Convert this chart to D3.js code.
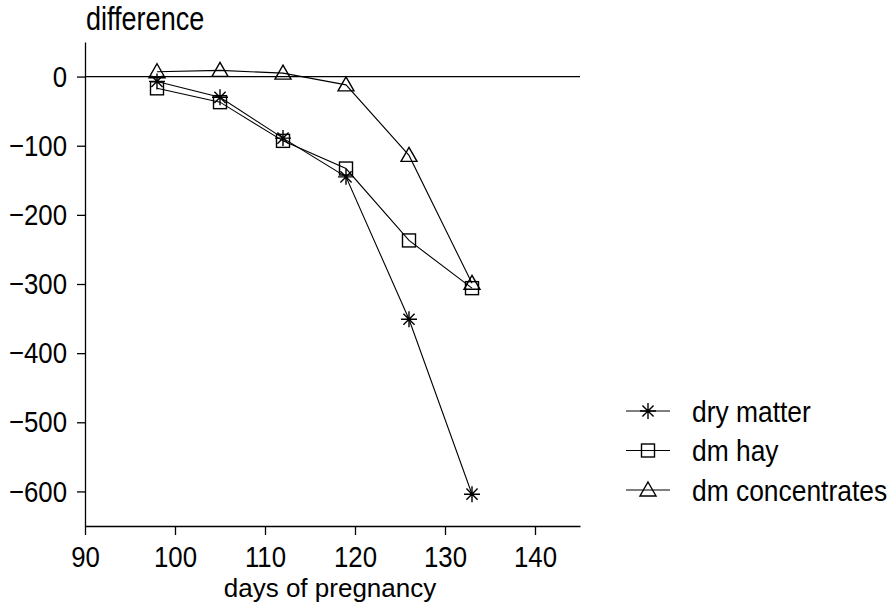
<!DOCTYPE html>
<html>
<head>
<meta charset="utf-8">
<script src="https://cdn.jsdelivr.net/npm/d3@7"></script>
<style>
  body { margin: 0; background: #fff; }
  svg text { font-family: "Liberation Sans", Arimo, sans-serif; fill: #000; }
  .axis path, .axis line { stroke: #000; stroke-width: 1.3px; }
  .axis text { font-size: 30px; font-family: "Liberation Sans", sans-serif; }
  .series { fill: none; stroke: #000; stroke-width: 1.1px; }
  .mark { fill: none; stroke: #000; stroke-width: 1.4px; }
</style>
</head>
<body>
<svg id="chart" width="893" height="604"></svg>
<script>
// days of pregnancy (x)
var days = [98, 105, 112, 119, 126, 133];

// differences
var dryMatter     = [-7, -30, -89, -145, -351, -604];
var dmHay         = [-17, -37, -93, -133, -237, -306];
var dmConcentrate = [7, 9, 5, -12, -114, -299];

var seriesNames = ["dry matter", "dm hay", "dm concentrates"];
var seriesMarks = ["star", "square", "triangle"];

var xTicks = [90, 100, 110, 120, 130, 140];
var yTicks = [0, -100, -200, -300, -400, -500, -600];

var svg = d3.select("#chart");

var x = d3.scaleLinear().domain([90, 145]).range([85, 580]);
var y = d3.scaleLinear().domain([50, -650]).range([42, 526]);

// the plotter font is narrow: squeeze texts sideways
function squash(sel, sx) {
  sel.each(function(){
    var t = d3.select(this);
    var x0 = +t.attr("x") || 0;
    t.attr("x", x0 / sx).attr("transform", "scale(" + sx + ",1)");
  });
}

// axes
var gx = svg.append("g")
    .attr("class", "x axis")
    .attr("transform", "translate(0," + y(-650) + ")")
    .call(d3.axisBottom(x).tickValues(xTicks).tickSize(9).tickSizeOuter(0).tickPadding(11));
squash(gx.selectAll("text"), 0.86);

var gy = svg.append("g")
    .attr("class", "y axis")
    .attr("transform", "translate(" + x(90) + ",0)")
    .call(d3.axisLeft(y).tickValues(yTicks).tickSize(8).tickSizeOuter(0).tickPadding(10));
squash(gy.selectAll("text"), 0.86);

// zero line
svg.append("line")
    .attr("x1", x(90)).attr("x2", x(145))
    .attr("y1", y(0)).attr("y2", y(0))
    .attr("stroke", "#000").attr("stroke-width", 1.2);

svg.append("text")
    .attr("x", 86).attr("y", 30)
    .style("font-size", "33px")
    .text("difference")
    .call(squash, 0.82);

svg.append("text")
    .attr("x", 330).attr("y", 597)
    .attr("text-anchor", "middle")
    .style("font-size", "26px")
    .text("days of pregnancy");

function drawMark(g, kind) {
  if (kind == "star") {
    var r = 8;
    g.append("path").attr("class", "mark")
      .attr("d", "M0," + (-r) + "V" + r + "M" + (-r) + ",0H" + r +
        "M" + (-r*0.7) + "," + (-r*0.7) + "L" + (r*0.7) + "," + (r*0.7) +
        "M" + (-r*0.7) + "," + (r*0.7) + "L" + (r*0.7) + "," + (-r*0.7));
  } else if (kind == "square") {
    g.append("rect").attr("class", "mark")
      .attr("x", -6.5).attr("y", -6.5).attr("width", 13).attr("height", 13);
  } else {
    g.append("path").attr("class", "mark")
      .attr("d", "M0,-8L8,6H-8Z");
  }
}

var allSeries = [dryMatter, dmHay, dmConcentrate];
var line = d3.line().x(function(d, i){ return x(days[i]); }).y(function(d){ return y(d); });

allSeries.forEach(function(vals, k){
  svg.append("path").attr("class", "series").attr("d", line(vals));
  vals.forEach(function(v, i){
    var g = svg.append("g").attr("transform", "translate(" + x(days[i]) + "," + y(v) + ")");
    drawMark(g, seriesMarks[k]);
  });
});

// legend
var legY = d3.scaleLinear().domain([0, 2]).range([411, 490]);
seriesNames.forEach(function(name, k){
  var ly = legY(k);
  svg.append("line").attr("x1", 626).attr("x2", 670).attr("y1", ly).attr("y2", ly)
    .attr("stroke", "#000").attr("stroke-width", 1.1);
  drawMark(svg.append("g").attr("transform", "translate(648," + ly + ")"), seriesMarks[k]);
  svg.append("text").attr("x", 692).attr("y", ly + 11)
    .style("font-size", "30px").text(name)
    .call(squash, 0.88);
});
</script>
</body>
</html>
